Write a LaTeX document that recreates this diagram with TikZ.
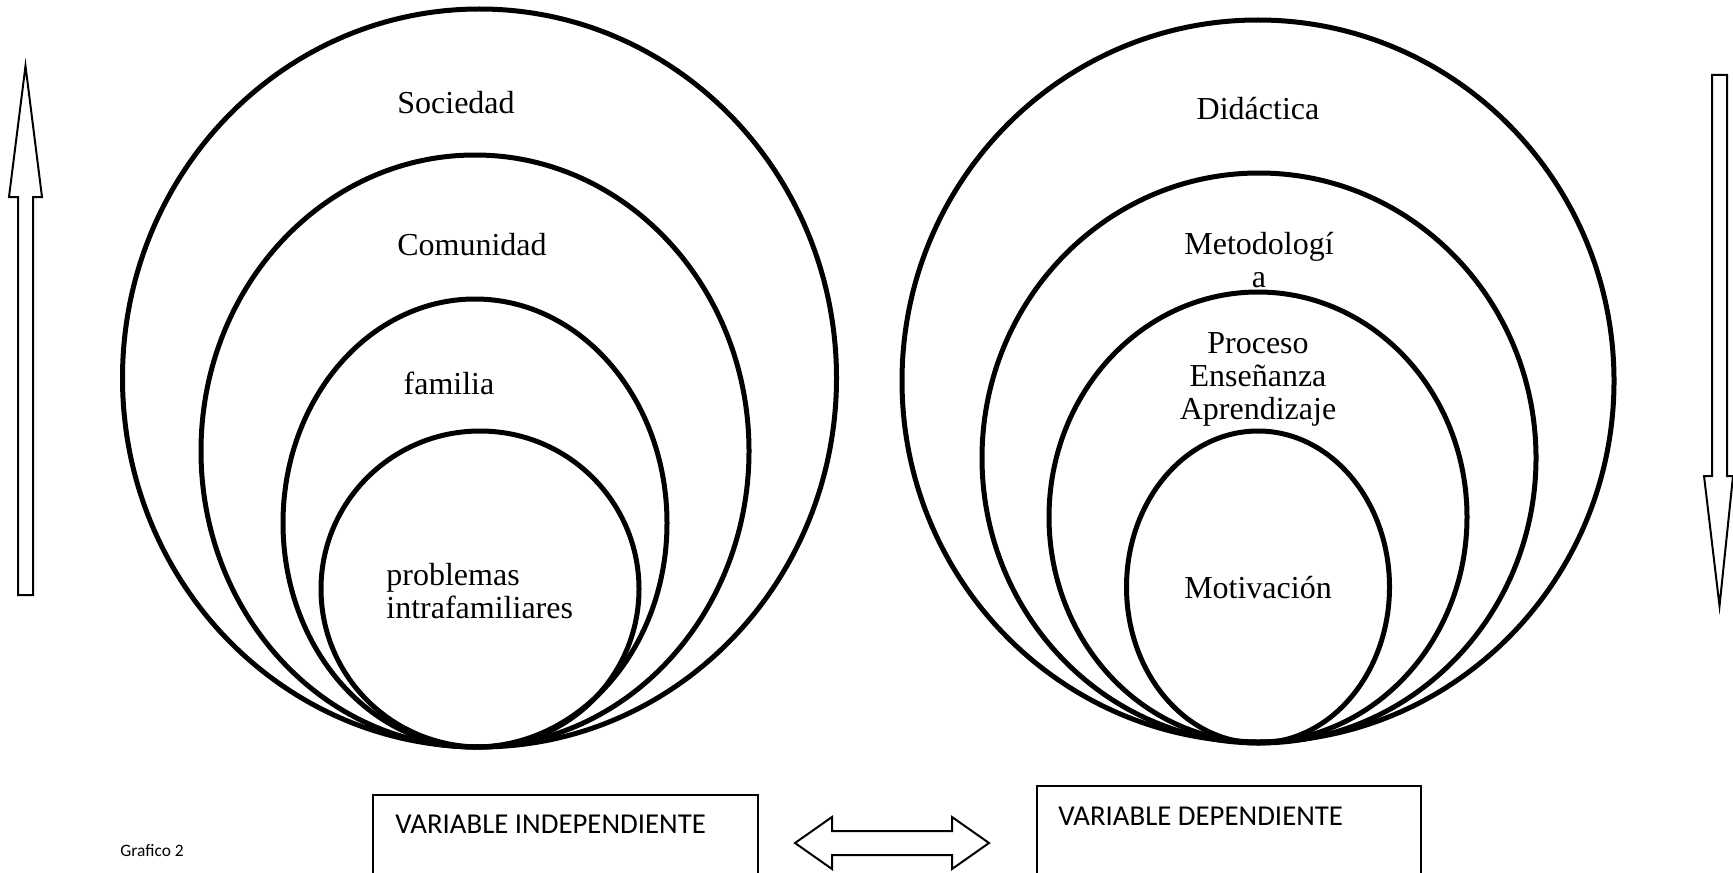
\documentclass[tikz,border=0pt]{standalone}
\usepackage{fontspec}
\setmainfont{Liberation Serif}
\newfontfamily\calfont{Carlito}
\usetikzlibrary{shapes.geometric}
\begin{document}
\begin{tikzpicture}[x=0.5pt,y=-0.5pt,
  ring/.style={draw, line width=2.5pt, ellipse, inner sep=0pt},
  lbl/.style={font=\fontsize{16}{16.5}\selectfont, align=center, inner sep=0pt},
  varbox/.style={draw, line width=0.9pt, inner sep=0pt, anchor=north west},
  vartext/.style={font=\calfont\fontsize{14.4}{16}\selectfont, anchor=west, inner sep=0pt},
  blockarrow/.style={draw, line width=1pt, fill=white, line join=miter}]
\useasboundingbox (0,0) rectangle (1733,872);
\clip (0,0) rectangle (1733,872);
% left circles
\node[ring, minimum width=357pt, minimum height=369pt] (l1) at (479.5,378) {};
\node[ring, minimum width=274pt, minimum height=296pt] (l2) at (475,451) {};
\node[ring, minimum width=192pt, minimum height=224pt] (l3) at (475,523) {};
\node[ring, minimum width=159pt, minimum height=158pt] (l4) at (480,589) {};
% right circles
\node[ring, minimum width=356pt, minimum height=361pt] (r1) at (1258,381) {};
\node[ring, minimum width=277pt, minimum height=285pt] (r2) at (1259,458) {};
\node[ring, minimum width=209pt, minimum height=225pt] (r3) at (1258,517) {};
\node[ring, minimum width=131.5pt, minimum height=156pt] (r4) at (1258,587) {};
% labels
\node[lbl] (tsoc) at (456,103) {Sociedad};
\node[lbl] (tcom) at (472,245) {Comunidad};
\node[lbl] (tfam) at (449,383) {familia};
\node[lbl, align=left, anchor=west] (tprob) at (386,591) {problemas\\intrafamiliares};
\node[lbl] (tdid) at (1258,109) {Didáctica};
\node[lbl] (tmet) at (1259,260) {Metodologí\\a};
\node[lbl] (tpea) at (1258,379) {Proceso\\Enseñanza\\Aprendizaje};
\node[lbl] (tmot) at (1258,588) {Motivación};
% bottom boxes
\node[varbox, minimum width=192.5pt, minimum height=60pt] (vi) at (372,794) {};
\node[vartext] (tvi) at (395,824) {VARIABLE INDEPENDIENTE};
\node[varbox, minimum width=192pt, minimum height=60pt] (vd) at (1036,785) {};
\node[vartext] (tvd) at (1058,816) {VARIABLE DEPENDIENTE};
\node[font=\calfont\fontsize{8.7}{10}\selectfont, anchor=west, inner sep=0pt] (graf) at (120,851) {Grafico 2};
% double arrow
\draw[blockarrow] (795,843) -- (832,817) -- (832,831) -- (952,831) -- (952,817) -- (989,843)
  -- (952,869) -- (952,855) -- (832,855) -- (832,869) -- cycle;
% up arrow (left)
\draw[blockarrow] (25.5,66) -- (42,197) -- (33,197) -- (33,595) -- (18,595) -- (18,197) -- (9,197) -- cycle;
% down arrow (right)
\draw[blockarrow] (1719.5,606) -- (1733,476) -- (1727,476) -- (1727,75) -- (1712,75) -- (1712,476) -- (1704,476) -- cycle;
\end{tikzpicture}
\end{document}
